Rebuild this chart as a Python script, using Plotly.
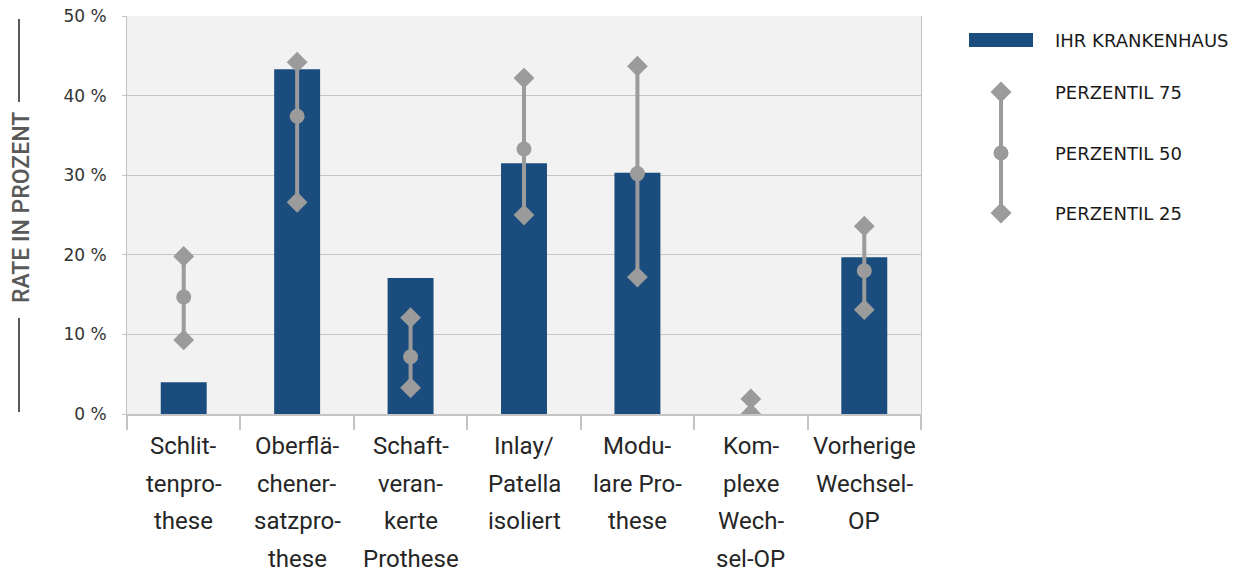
import plotly.graph_objects as go

categories = ["Schlittenprothese", "Oberflächenersatzprothese", "Schaftverankerte Prothese",
              "Inlay/Patella isoliert", "Modulare Prothese", "Komplexe Wechsel-OP", "Vorherige Wechsel-OP"]
category_labels = [
    ["Schlit-", "tenpro-", "these"],
    ["Oberflä-", "chener-", "satzpro-", "these"],
    ["Schaft-", "veran-", "kerte", "Prothese"],
    ["Inlay/", "Patella", "isoliert"],
    ["Modu-", "lare Pro-", "these"],
    ["Kom-", "plexe", "Wech-", "sel-OP"],
    ["Vorherige", "Wechsel-", "OP"],
]
hospital = [4.0, 43.3, 17.1, 31.5, 30.3, 0.0, 19.7]
p75 = [19.8, 44.2, 12.1, 42.2, 43.7, 1.9, 23.6]
p50 = [14.7, 37.4, 7.2, 33.3, 30.2, 0.0, 18.0]
p25 = [9.3, 26.6, 3.3, 25.0, 17.2, 0.0, 13.1]
y_ticks = [0, 10, 20, 30, 40, 50]
y_tick_text = ["0 %", "10 %", "20 %", "30 %", "40 %", "50 %"]
legend_names = ["IHR KRANKENHAUS", "PERZENTIL 75", "PERZENTIL 50", "PERZENTIL 25"]

BLUE = "#1a4c7e"
GRAY = "#9b9b9b"
GRID = "#c4c4c4"

W, H = 1240, 573
L, R, T, B = 127, 921, 16, 414

fig = go.Figure()
fig.add_trace(go.Bar(x=categories, y=hospital, marker=dict(color=BLUE, line=dict(width=0)),
                     width=0.405, showlegend=False))
fig.add_trace(go.Scatter(
    x=categories, y=p50, mode="markers",
    marker=dict(symbol="circle", size=15, color=GRAY),
    error_y=dict(type="data", symmetric=False,
                 array=[a - b for a, b in zip(p75, p50)],
                 arrayminus=[b - c for b, c in zip(p50, p25)],
                 color=GRAY, thickness=4, width=0),
    showlegend=False))
fig.add_trace(go.Scatter(x=categories, y=p75, mode="markers",
                         marker=dict(symbol="diamond", size=16, color=GRAY), showlegend=False))
fig.add_trace(go.Scatter(x=categories, y=p25, mode="markers",
                         marker=dict(symbol="diamond", size=16, color=GRAY), showlegend=False))

annotations = []
for cat, lines in zip(categories, category_labels):
    for i, line in enumerate(lines):
        annotations.append(dict(x=cat, xref="x", y=0, yref="paper", yanchor="middle",
                                yshift=-(446 - 414) - i * 37.5, text=line, showarrow=False,
                                font=dict(family="Roboto", size=24, color="#262626")))

def px_x(px):
    return (px - L) / (R - L)

def px_y(py):
    return (B - py) / (B - T)

# y-axis title and decorative lines
annotations.append(dict(x=px_x(21), y=px_y(208), xref="paper", yref="paper", text="RATE IN PROZENT",
                        textangle=-90, showarrow=False, xanchor="center", yanchor="middle",
                        font=dict(family="Roboto", size=23, color="#595959", weight=500)))
shapes = [
    dict(type="line", xref="paper", yref="paper", x0=px_x(19), x1=px_x(19), y0=px_y(19), y1=px_y(102),
         line=dict(color="#595959", width=2)),
    dict(type="line", xref="paper", yref="paper", x0=px_x(19), x1=px_x(19), y0=px_y(318), y1=px_y(412),
         line=dict(color="#595959", width=2)),
]

# custom legend
leg_x = 1001
leg_ys = [40, 92, 153, 213]
shapes.append(dict(type="rect", xref="paper", yref="paper", x0=px_x(969), x1=px_x(1033),
                   y0=px_y(47), y1=px_y(33), fillcolor=BLUE, line=dict(width=0)))
shapes.append(dict(type="line", xref="paper", yref="paper", x0=px_x(leg_x), x1=px_x(leg_x),
                   y0=px_y(92), y1=px_y(213), line=dict(color=GRAY, width=4)))
for yy in (92, 213):
    shapes.append(dict(type="path", xref="paper", yref="paper", xsizemode="pixel", ysizemode="pixel",
                       xanchor=px_x(leg_x), yanchor=px_y(yy),
                       path="M -10.5 0 L 0 10.5 L 10.5 0 L 0 -10.5 Z", fillcolor=GRAY, line=dict(width=0)))
shapes.append(dict(type="circle", xref="paper", yref="paper", xsizemode="pixel", ysizemode="pixel",
                   xanchor=px_x(leg_x), yanchor=px_y(153), x0=-7.5, x1=7.5, y0=-7.5, y1=7.5,
                   fillcolor=GRAY, line=dict(width=0)))
for name, yy in zip(legend_names, leg_ys):
    annotations.append(dict(x=px_x(1053), y=px_y(yy), xref="paper", yref="paper", text=name,
                            showarrow=False, xanchor="left", yanchor="middle",
                            font=dict(family="DejaVu Sans", size=18, color="#1a1a1a")))

fig.update_layout(
    width=W, height=H,
    margin=dict(l=L, r=W - R, t=T, b=H - B, pad=0, autoexpand=False),
    paper_bgcolor="white", plot_bgcolor="#f2f2f2",
    bargap=0.6, showlegend=False,
    annotations=annotations, shapes=shapes,
    xaxis=dict(type="category", showticklabels=False, ticks="outside", tickson="boundaries",
               ticklen=14, tickcolor=GRID, tickwidth=2, showline=True, linecolor=GRID, linewidth=2,
               mirror=False, showgrid=False, zeroline=False, automargin=False),
    yaxis=dict(range=[0, 50], tickvals=y_ticks, ticktext=y_tick_text, ticks="outside", ticklen=4,
               tickcolor=GRID, showline=True, linecolor=GRID, linewidth=1, mirror=True,
               showgrid=True, gridcolor=GRID, gridwidth=1, zeroline=False, automargin=False,
               ticklabelstandoff=12,
               tickfont=dict(family="DejaVu Sans", size=17, color="#333333")),
)

fig.write_html("out.html", config={"displayModeBar": False},
               post_script="document.body.style.margin='0';document.body.style.overflow='hidden';")
